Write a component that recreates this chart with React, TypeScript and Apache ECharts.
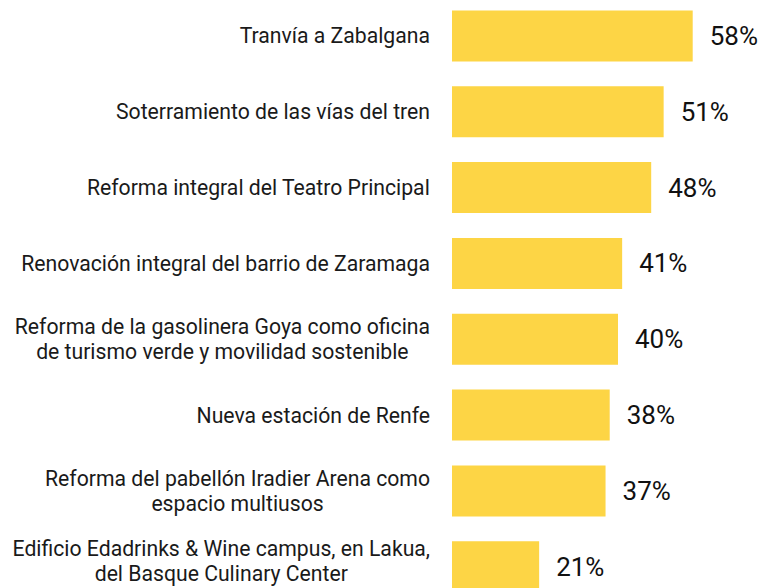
import React, { useEffect, useRef } from "react";
import * as echarts from "echarts";

const categories: string[] = [
  "Tranvía a Zabalgana",
  "Soterramiento de las vías del tren",
  "Reforma integral del Teatro Principal",
  "Renovación integral del barrio de Zaramaga",
  "Reforma de la gasolinera Goya como oficina\nde turismo verde y movilidad sostenible",
  "Nueva estación de Renfe",
  "Reforma del pabellón Iradier Arena como\nespacio multiusos",
  "Edificio Edadrinks & Wine campus, en Lakua,\ndel Basque Culinary Center",
];

const values: number[] = [58, 51, 48, 41, 40, 38, 37, 21];

export default function App() {
  const ref = useRef<HTMLDivElement>(null);

  useEffect(() => {
    if (!ref.current) return;
    const chart = echarts.init(ref.current, undefined, { renderer: "svg" });
    const font = "Roboto, 'Noto Sans', sans-serif";
    const lastIdx = categories.length - 1;
    chart.setOption({
      animation: false,
      backgroundColor: "#ffffff",
      grid: {
        left: 452,
        top: 0,
        height: 606.7,
        width: 290.5,
        containLabel: false,
      },
      xAxis: {
        type: "value",
        min: 0,
        max: 70,
        show: false,
      },
      yAxis: {
        type: "category",
        data: categories.map((c, i) =>
          i === lastIdx ? { value: c, textStyle: { padding: [0, 0, 12, 0] } } : c
        ),
        inverse: true,
        axisLine: { show: false },
        axisTick: { show: false },
        splitLine: { show: false },
        axisLabel: {
          margin: 22,
          color: "#1a1a1a",
          fontFamily: font,
          fontSize: 21.2,
          lineHeight: 25,
          formatter: (v: string) =>
            v
              .split("\n")
              .map((l) => `{c|${l}}`)
              .join("\n"),
          rich: {
            c: {
              align: "center",
              fontFamily: font,
              fontSize: 21.2,
              lineHeight: 25,
              color: "#1a1a1a",
            },
          },
        },
      },
      series: [
        {
          type: "bar",
          data: values,
          barWidth: 51,
          itemStyle: { color: "#FDD545" },
          label: {
            show: true,
            position: "right",
            distance: 17,
            formatter: "{c}%",
            fontFamily: font,
            fontSize: 26,
            fontWeight: 400,
            color: "#111111",
          },
        },
      ],
    });
    return () => chart.dispose();
  }, []);

  return (
    <div
      style={{
        position: "fixed",
        left: 0,
        top: 0,
        width: 761,
        height: 588,
        overflow: "hidden",
        background: "#fff",
      }}
    >
      <div
        ref={ref}
        style={{ position: "absolute", left: 0, top: -2.4, width: 761, height: 620 }}
      />
    </div>
  );
}
